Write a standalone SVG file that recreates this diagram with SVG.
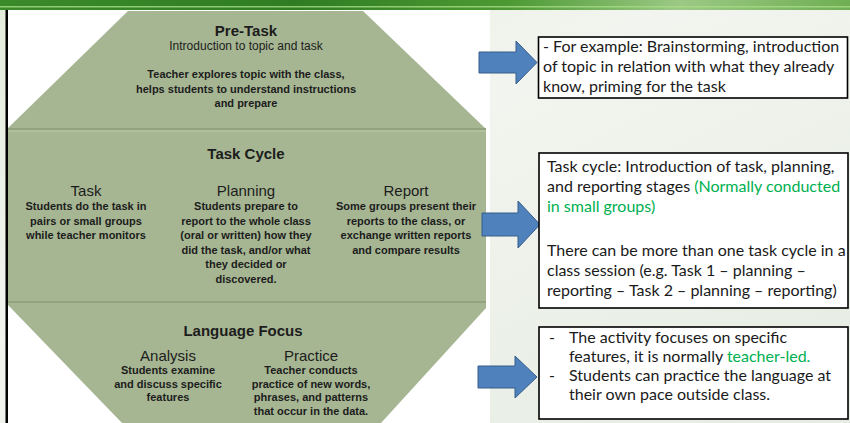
<svg xmlns="http://www.w3.org/2000/svg" width="850" height="423" viewBox="0 0 850 423">
<defs>
<linearGradient id="banner" x1="0" y1="0" x2="1" y2="0">
<stop offset="0" stop-color="#3a8a2a"/>
<stop offset="0.35" stop-color="#2f7d22"/>
<stop offset="0.6" stop-color="#4d9a34"/>
<stop offset="0.8" stop-color="#9cc985"/>
<stop offset="1" stop-color="#6fae52"/>
</linearGradient>
<linearGradient id="bgR" x1="0" y1="0" x2="1" y2="1">
<stop offset="0" stop-color="#e4ecdd"/>
<stop offset="0.4" stop-color="#f2f5ef"/>
<stop offset="1" stop-color="#e6ece2"/>
</linearGradient>
<style>
.band{fill:#a6b693;}
.sep{stroke:#8c9c79;stroke-width:1.5;}
.hl{stroke:#bac7aa;stroke-width:1;}
.t{font-family:"Liberation Sans",Arial,sans-serif;fill:#1c1c1c;text-anchor:middle;}
.h{font-size:15px;font-weight:bold;}
.s{font-size:15px;}
.b{font-size:11px;font-weight:bold;}
.r{font-size:12px;}
.box{fill:#ffffff;stroke:#000000;stroke-width:1.6;}
.n{font-family:Lato,"Open Sans",sans-serif;font-size:16px;fill:#1a1a1a;}
.g{fill:#00b050;}
.arr{fill:#4f81bd;stroke:#385d8a;stroke-width:1;}
</style>
</defs>
<rect x="0" y="0" width="850" height="423" fill="url(#bgR)"/>
<rect x="0" y="0" width="850" height="10" fill="url(#banner)"/>
<rect x="0" y="6" width="850" height="1.5" fill="#a6dc86" opacity="0.8"/>
<rect x="8" y="10" width="482" height="413" fill="#ffffff"/>
<rect x="5.5" y="10" width="2.5" height="413" fill="#000000"/>

<g id="pre-task">
<polygon class="band" points="128,11 363,11 485,128 8,128"/>
<text class="t h" x="246" y="36">Pre-Task</text>
<text class="t r" x="246" y="50">Introduction to topic and task</text>
<text class="t b" x="246" y="78">Teacher explores topic with the class,</text>
<text class="t b" x="246" y="92.5">helps students to understand instructions</text>
<text class="t b" x="246" y="107">and prepare</text>
</g>

<g id="task-cycle">
<rect class="band" x="8" y="128" width="478" height="174"/>
<line class="sep" x1="8" y1="129" x2="486" y2="129"/>
<line class="hl" x1="8" y1="131" x2="486" y2="131"/>
<text class="t h" x="246" y="159">Task Cycle</text>
<text class="t s" x="86" y="196">Task</text>
<text class="t b" x="86" y="210">Students do the task in</text>
<text class="t b" x="86" y="224.5">pairs or small groups</text>
<text class="t b" x="86" y="239">while teacher monitors</text>
<text class="t s" x="246" y="196">Planning</text>
<text class="t b" x="246" y="210">Students prepare to</text>
<text class="t b" x="246" y="224.5">report to the whole class</text>
<text class="t b" x="246" y="239">(oral or written) how they</text>
<text class="t b" x="246" y="253.5">did the task, and/or what</text>
<text class="t b" x="246" y="268">they decided or</text>
<text class="t b" x="246" y="282.5">discovered.</text>
<text class="t s" x="406" y="196">Report</text>
<text class="t b" x="406" y="210">Some groups present their</text>
<text class="t b" x="406" y="224.5">reports to the class, or</text>
<text class="t b" x="406" y="239">exchange written reports</text>
<text class="t b" x="406" y="253.5">and compare results</text>
</g>

<g id="language-focus">
<polygon class="band" points="8,302 486,302 486,308 381,423 122,423 8,305"/>
<line class="sep" x1="8" y1="302" x2="486" y2="302"/>
<text class="t h" x="243" y="336">Language Focus</text>
<text class="t s" x="168" y="360.5">Analysis</text>
<text class="t b" x="168" y="374">Students examine</text>
<text class="t b" x="168" y="387.5">and discuss specific</text>
<text class="t b" x="168" y="401">features</text>
<text class="t s" x="311" y="360.5">Practice</text>
<text class="t b" x="311" y="374">Teacher conducts</text>
<text class="t b" x="311" y="387.5">practice of new words,</text>
<text class="t b" x="311" y="401">phrases, and patterns</text>
<text class="t b" x="311" y="414.5">that occur in the data.</text>
</g>

<g id="connectors">
<polygon class="arr" points="479,52 516,52 516,41 537,62.5 516,84 516,73 479,73"/>
<polygon class="arr" points="482,213 518,213 518,201 540,224.5 518,248 518,236 482,236"/>
<polygon class="arr" points="478,366 515,366 515,356 537,377 515,398 515,388 478,388"/>
</g>

<g id="note-pre-task">
<rect class="box" x="538.5" y="37" width="309" height="61"/>
<text class="n" x="543" y="52">- For example: Brainstorming, introduction</text>
<text class="n" x="543" y="72">of topic in relation with what they already</text>
<text class="n" x="543" y="92">know, priming for the task</text>
</g>

<g id="note-task-cycle">
<rect class="box" x="539" y="153" width="309" height="155"/>
<text class="n" x="547" y="172">Task cycle: Introduction of task, planning,</text>
<text class="n" x="547" y="192">and reporting stages <tspan class="g">(Normally conducted</tspan></text>
<text class="n g" x="547" y="212">in small groups)</text>
<text class="n" x="547" y="256">There can be more than one task cycle in a</text>
<text class="n" x="547" y="276">class session (e.g. Task 1 – planning –</text>
<text class="n" x="547" y="296">reporting – Task 2 – planning – reporting)</text>
</g>

<g id="note-language-focus">
<rect class="box" x="539" y="327" width="309" height="92"/>
<text class="n" x="549" y="343">-</text>
<text class="n" x="569" y="343">The activity focuses on specific</text>
<text class="n" x="569" y="362">features, it is normally <tspan class="g">teacher-led.</tspan></text>
<text class="n" x="549" y="381">-</text>
<text class="n" x="569" y="381">Students can practice the language at</text>
<text class="n" x="569" y="400">their own pace outside class.</text>
</g>
</svg>
